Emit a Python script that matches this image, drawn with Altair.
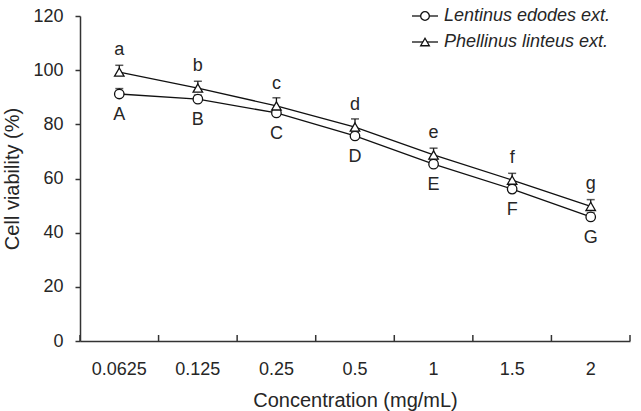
import altair as alt
import pandas as pd

# Concentrations tested (mg/mL), shown as evenly spaced categories
concentrations = ["0.0625", "0.125", "0.25", "0.5", "1", "1.5", "2"]

series_names = ["Lentinus edodes ext.", "Phellinus linteus ext."]

# Mean cell viability (%) and SD for each extract
lentinus_values = [91.2, 89.3, 84.2, 75.7, 65.3, 56.1, 45.8]
lentinus_err = [2.0, 1.5, 1.5, 1.5, 1.5, 1.5, 1.5]
lentinus_letters = ["A", "B", "C", "D", "E", "F", "G"]

phellinus_values = [99.3, 93.4, 86.8, 79.0, 68.7, 59.4, 49.7]
phellinus_err = [2.5, 2.5, 3.0, 3.0, 2.5, 2.5, 2.5]
phellinus_letters = ["a", "b", "c", "d", "e", "f", "g"]

rows = []
for name, vals, errs, letters in [
    (series_names[0], lentinus_values, lentinus_err, lentinus_letters),
    (series_names[1], phellinus_values, phellinus_err, phellinus_letters),
]:
    for c, v, e, l in zip(concentrations, vals, errs, letters):
        rows.append({"conc": c, "series": name, "value": v, "upper": v + e, "letter": l})
df = pd.DataFrame(rows)

FONT = "Liberation Sans"
W, H = 550, 325
INK = "#111111"
AXIS = "#333333"
TEXT = "#262626"

x_scale = alt.Scale(type="band", paddingInner=0, paddingOuter=0, domain=concentrations)
y_scale = alt.Scale(domain=[0, 120], nice=False)

x_enc = alt.X(
    "conc:N",
    scale=x_scale,
    sort=concentrations,
    title="Concentration (mg/mL)",
    axis=alt.Axis(
        labelAngle=0, ticks=False, labelPadding=19, labelFontSize=18,
        titleFontSize=20, titleFontWeight="normal", titlePadding=12,
        labelColor=TEXT, titleColor=TEXT,
        domainColor=AXIS, domainWidth=1.5, labelFont=FONT, titleFont=FONT,
    ),
)
y_enc = alt.Y(
    "value:Q",
    scale=y_scale,
    title="Cell viability (%)",
    axis=alt.Axis(
        values=[0, 20, 40, 60, 80, 100, 120], tickSize=5, tickColor=AXIS,
        tickWidth=1.5, labelPadding=12, labelFontSize=18, titleFontSize=20,
        titleFontWeight="normal", titlePadding=10, grid=False,
        labelColor=TEXT, titleColor=TEXT,
        domainColor=AXIS, domainWidth=1.5, labelFont=FONT, titleFont=FONT,
    ),
)

base = alt.Chart(df)

shape_scale = alt.Scale(domain=series_names, range=["circle", "triangle-up"])

lines = base.mark_line(color=INK, strokeWidth=1.3).encode(
    x=x_enc, y=y_enc, detail="series:N"
)

err_rules = base.mark_rule(color=INK, strokeWidth=1.3).encode(
    x=alt.X("conc:N", scale=x_scale, sort=concentrations),
    y="value:Q",
    y2="upper:Q",
)
err_caps = base.mark_tick(color=INK, thickness=1.5, size=8, orient="horizontal").encode(
    x=alt.X("conc:N", scale=x_scale, sort=concentrations),
    y=alt.Y("upper:Q"),
)

points = base.mark_point(filled=True, fill="white", stroke=INK, strokeWidth=1.3, opacity=1).encode(
    x=alt.X("conc:N", scale=x_scale, sort=concentrations),
    y="value:Q",
    shape=alt.Shape("series:N", scale=shape_scale, legend=None),
    size=alt.value(90),
)

upper_letters = base.transform_filter(
    alt.datum.series == series_names[1]
).mark_text(font=FONT, fontSize=18, color=TEXT, dy=-22, baseline="middle").encode(
    x=alt.X("conc:N", scale=x_scale, sort=concentrations),
    y="value:Q",
    text="letter:N",
)
lower_letters = base.transform_filter(
    alt.datum.series == series_names[0]
).mark_text(font=FONT, fontSize=18, color=TEXT, dy=21, baseline="middle").encode(
    x=alt.X("conc:N", scale=x_scale, sort=concentrations),
    y="value:Q",
    text="letter:N",
)

# Inward-pointing ticks on the category boundaries of the x axis
tick_df = pd.DataFrame({"conc": concentrations})
x_ticks = alt.Chart(tick_df).mark_rule(color=AXIS, strokeWidth=1.5).encode(
    x=alt.X("conc:N", scale=x_scale, sort=concentrations, bandPosition=0),
    y=alt.value(H),
    y2=alt.value(H - 6),
)
x_tick_end = alt.Chart(tick_df.tail(1)).mark_rule(color=AXIS, strokeWidth=1.5).encode(
    x=alt.X("conc:N", scale=x_scale, sort=concentrations, bandPosition=1),
    y=alt.value(H),
    y2=alt.value(H - 6),
)

# Legend in the upper right: line-marker-line symbol and italic name
legend_layers = []
legend_df = pd.DataFrame({"series": series_names})
for i, (name, shp) in enumerate(zip(series_names, ["circle", "triangle-up"])):
    ly = 0 + 26 * i
    one = alt.Chart(legend_df[legend_df.series == name])
    legend_layers.append(
        one.mark_rule(color=INK, strokeWidth=1.3).encode(
            x=alt.value(332), x2=alt.value(358), y=alt.value(ly)
        )
    )
    legend_layers.append(
        one.mark_point(filled=True, fill="white", stroke=INK, strokeWidth=1.3, opacity=1).encode(
            x=alt.value(345), y=alt.value(ly), shape=alt.value(shp), size=alt.value(75)
        )
    )
    legend_layers.append(
        one.mark_text(font=FONT, fontSize=18, fontStyle="italic", color=TEXT,
                      align="left", baseline="middle").encode(
            x=alt.value(364), y=alt.value(ly), text="series:N"
        )
    )

chart = alt.layer(
    lines, err_rules, err_caps, points, upper_letters, lower_letters,
    x_ticks, x_tick_end, *legend_layers
).properties(
    width=W,
    height=H,
    autosize=alt.AutoSizeParams(type="none"),
    padding={"left": 80, "top": 16, "right": 11, "bottom": 70},
    background="white",
).configure_view(stroke=None)

chart.save("out.html", embed_options={"renderer": "svg", "actions": False})
